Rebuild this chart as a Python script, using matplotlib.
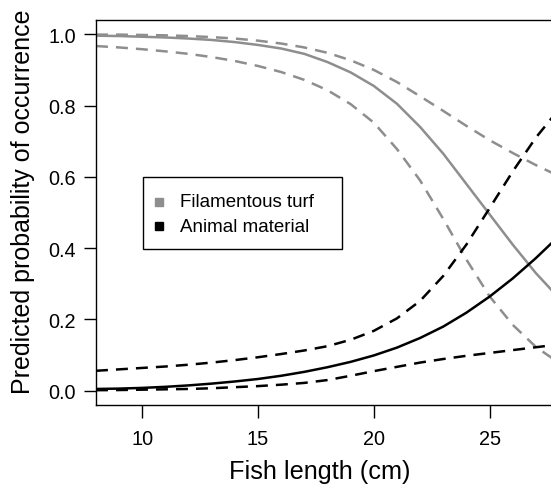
import matplotlib
matplotlib.use("Agg")
import matplotlib.pyplot as plt
from matplotlib.patches import Rectangle

plt.rcParams['font.family'] = ['Liberation Sans', 'DejaVu Sans']
plt.rcParams['lines.scale_dashes'] = False

fish_length = [8, 9, 10, 11, 12, 13, 14, 15, 16, 17, 18, 19, 20, 21, 22, 23, 24, 25, 26, 27, 28]

turf_mean = [0.996, 0.995, 0.993, 0.991, 0.988, 0.984, 0.978, 0.970, 0.960, 0.945, 0.922, 0.893,
             0.855, 0.805, 0.740, 0.665, 0.580, 0.495, 0.410, 0.330, 0.260]
turf_upper = [0.999, 0.999, 0.998, 0.997, 0.995, 0.992, 0.988, 0.982, 0.974, 0.963, 0.948, 0.927,
              0.900, 0.866, 0.826, 0.785, 0.743, 0.703, 0.667, 0.633, 0.602]
turf_lower = [0.967, 0.963, 0.958, 0.952, 0.945, 0.936, 0.925, 0.911, 0.894, 0.872, 0.843, 0.804,
              0.752, 0.678, 0.590, 0.482, 0.368, 0.265, 0.185, 0.123, 0.078]

animal_mean = [0.005, 0.006, 0.008, 0.011, 0.015, 0.020, 0.026, 0.033, 0.042, 0.053, 0.066, 0.081,
               0.099, 0.121, 0.148, 0.180, 0.219, 0.264, 0.315, 0.372, 0.434]
animal_upper = [0.056, 0.060, 0.064, 0.068, 0.073, 0.079, 0.086, 0.094, 0.103, 0.113, 0.125, 0.143,
                0.168, 0.203, 0.252, 0.322, 0.410, 0.512, 0.615, 0.710, 0.790]
animal_lower = [0.0015, 0.002, 0.003, 0.004, 0.005, 0.007, 0.010, 0.013, 0.017, 0.022, 0.030, 0.042,
                0.055, 0.067, 0.079, 0.089, 0.098, 0.106, 0.114, 0.122, 0.130]

series_labels = ["Filamentous turf", "Animal material"]
x_ticks = [10, 15, 20, 25]
y_ticks = [0.0, 0.2, 0.4, 0.6, 0.8, 1.0]

GRAY = '#8e8e8e'
BLACK = '#000000'
dash = (0, (8.6, 5.8))
lw = 1.8

fig = plt.figure(figsize=(5.51, 4.85), dpi=100)
ax = fig.add_axes([96/551, 79/485, 463/551, 385/485])

ax.plot(fish_length, turf_mean, color=GRAY, lw=lw)
ax.plot(fish_length, turf_upper, color=GRAY, lw=lw, linestyle=dash)
ax.plot(fish_length, turf_lower, color=GRAY, lw=lw, linestyle=dash)
ax.plot(fish_length, animal_mean, color=BLACK, lw=lw)
ax.plot(fish_length, animal_upper, color=BLACK, lw=lw, linestyle=dash)
ax.plot(fish_length, animal_lower, color=BLACK, lw=lw, linestyle=dash)

ax.set_xlim(8, 28)
ax.set_ylim(-0.04, 1.04)
ax.set_xticks(x_ticks)
ax.set_xticklabels([str(t) for t in x_ticks])
ax.set_yticks(y_ticks)
ax.set_yticklabels([f"{t:.1f}" for t in y_ticks])
ax.tick_params(axis='both', direction='out', length=9, width=1, labelsize=14.3, color='black')
ax.tick_params(axis='x', pad=8.3)
ax.tick_params(axis='y', pad=5.5)
for s in ['left', 'bottom', 'top']:
    ax.spines[s].set_color('black')
    ax.spines[s].set_linewidth(1)
ax.spines['right'].set_visible(False)

ax.set_xlabel("Fish length (cm)", fontsize=18.2)
ax.xaxis.label.set_va('center')
ax.xaxis.set_label_coords(0.484, (406-472)/385)
ax.set_ylabel("Predicted probability of occurrence", fontsize=18)
ax.yaxis.label.set_va('center')
ax.yaxis.set_label_coords((23-96)/463, 0.531)

# legend (drawn as a framed box with square keys)
ax.add_patch(Rectangle((0.1015, 0.4052), 0.5313-0.1015, 0.5922-0.4052, transform=ax.transAxes,
                       facecolor='white', edgecolor='black', lw=1, zorder=5))
for lab, col, yy in zip(series_labels, [GRAY, BLACK], [0.5273, 0.4649]):
    ax.plot([0.137], [yy], marker='s', color=col, markersize=6, transform=ax.transAxes,
            zorder=6, clip_on=False)
    ax.text(0.1814, yy, lab, transform=ax.transAxes, fontsize=13.5, va='center', ha='left',
            zorder=6)

fig.savefig("out.png", dpi=100)
